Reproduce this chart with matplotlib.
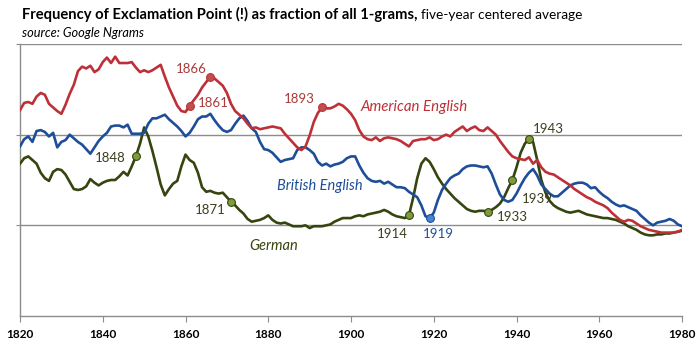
import matplotlib
matplotlib.use("Agg")
import matplotlib.pyplot as plt

plt.rcParams["font.family"] = ["Lato", "DejaVu Sans"]

YEARS = list(range(1820, 1981))

AMERICAN = [
    2.27, 2.35, 2.36, 2.34, 2.42, 2.46, 2.44, 2.34, 2.30, 2.26,
    2.23, 2.33, 2.45, 2.55, 2.70, 2.75, 2.73, 2.76, 2.69, 2.72,
    2.80, 2.85, 2.79, 2.86, 2.79, 2.79, 2.79, 2.80, 2.74, 2.69,
    2.71, 2.69, 2.71, 2.74, 2.77, 2.64, 2.52, 2.42, 2.32, 2.26,
    2.25, 2.32, 2.38, 2.44, 2.52, 2.58, 2.64, 2.62, 2.58, 2.54,
    2.46, 2.34, 2.26, 2.22, 2.18, 2.12, 2.07, 2.08, 2.06, 2.07,
    2.08, 2.09, 2.08, 2.07, 2.01, 1.96, 1.91, 1.86, 1.83, 1.87,
    1.99, 2.14, 2.24, 2.30, 2.29, 2.29, 2.31, 2.34, 2.32, 2.28,
    2.23, 2.16, 2.05, 1.98, 1.95, 1.94, 1.97, 1.93, 1.96, 1.97,
    1.96, 1.95, 1.93, 1.90, 1.87, 1.93, 1.94, 1.95, 1.95, 1.97,
    1.94, 1.95, 1.98, 2.00, 1.98, 2.03, 2.06, 2.09, 2.04, 2.07,
    2.09, 2.05, 2.04, 2.08, 2.04, 2.00, 1.93, 1.87, 1.81, 1.76,
    1.74, 1.73, 1.72, 1.75, 1.68, 1.72, 1.64, 1.59, 1.57, 1.56,
    1.53, 1.50, 1.47, 1.44, 1.40, 1.37, 1.34, 1.31, 1.29, 1.26,
    1.24, 1.22, 1.19, 1.14, 1.10, 1.06, 1.04, 1.06, 1.05, 1.02,
    0.99, 0.97, 0.95, 0.94, 0.93, 0.92, 0.92, 0.92, 0.92, 0.93,
    0.95,
]

BRITISH = [
    1.87, 1.95, 1.98, 1.92, 2.04, 2.05, 2.03, 1.98, 2.02, 1.86,
    1.92, 1.94, 2.00, 1.96, 1.92, 1.89, 1.84, 1.79, 1.86, 1.93,
    1.98, 2.02, 2.09, 2.10, 2.10, 2.08, 2.11, 2.01, 2.01, 2.01,
    2.02, 2.12, 2.18, 2.18, 2.20, 2.22, 2.17, 2.13, 2.09, 2.04,
    1.98, 2.02, 2.09, 2.17, 2.20, 2.20, 2.23, 2.16, 2.10, 2.05,
    2.03, 2.05, 2.12, 2.18, 2.21, 2.15, 2.07, 2.03, 1.92, 1.84,
    1.83, 1.80, 1.75, 1.70, 1.72, 1.73, 1.74, 1.83, 1.86, 1.86,
    1.83, 1.79, 1.70, 1.66, 1.68, 1.65, 1.67, 1.68, 1.70, 1.74,
    1.76, 1.76, 1.66, 1.58, 1.52, 1.49, 1.48, 1.49, 1.46, 1.48,
    1.45, 1.42, 1.42, 1.41, 1.37, 1.34, 1.31, 1.22, 1.10, 1.08,
    1.14, 1.28, 1.39, 1.46, 1.52, 1.55, 1.57, 1.62, 1.65, 1.66,
    1.66, 1.65, 1.64, 1.65, 1.57, 1.45, 1.34, 1.28, 1.26, 1.28,
    1.35, 1.44, 1.52, 1.58, 1.62, 1.55, 1.45, 1.40, 1.35, 1.32,
    1.32, 1.36, 1.40, 1.44, 1.46, 1.47, 1.47, 1.45, 1.41, 1.42,
    1.37, 1.33, 1.30, 1.26, 1.23, 1.21, 1.22, 1.20, 1.18, 1.16,
    1.11, 1.07, 1.03, 1.00, 1.03, 1.04, 1.05, 1.07, 1.05, 1.01,
    0.99,
]

GERMAN = [
    1.68, 1.74, 1.76, 1.72, 1.68, 1.58, 1.52, 1.49, 1.59, 1.62,
    1.61, 1.56, 1.48, 1.40, 1.39, 1.40, 1.43, 1.51, 1.47, 1.44,
    1.47, 1.49, 1.50, 1.50, 1.54, 1.59, 1.55, 1.65, 1.76, 1.90,
    2.08, 1.98, 1.82, 1.64, 1.45, 1.33, 1.40, 1.46, 1.49, 1.65,
    1.78, 1.72, 1.69, 1.58, 1.42, 1.37, 1.38, 1.36, 1.35, 1.36,
    1.31, 1.26, 1.22, 1.17, 1.13, 1.07, 1.04, 1.05, 1.06, 1.08,
    1.11, 1.06, 1.03, 1.02, 1.03, 1.01, 0.99, 0.99, 0.99, 1.00,
    0.97, 0.99, 0.99, 0.99, 1.00, 1.01, 1.04, 1.06, 1.08, 1.08,
    1.08, 1.10, 1.11, 1.10, 1.12, 1.13, 1.14, 1.15, 1.17, 1.15,
    1.12, 1.10, 1.09, 1.08, 1.11, 1.30, 1.52, 1.68, 1.74, 1.70,
    1.62, 1.53, 1.46, 1.40, 1.35, 1.30, 1.26, 1.22, 1.18, 1.16,
    1.15, 1.16, 1.16, 1.15, 1.17, 1.20, 1.24, 1.31, 1.41, 1.50,
    1.64, 1.80, 1.90, 1.95, 1.92, 1.72, 1.50, 1.36, 1.27, 1.22,
    1.19, 1.17, 1.15, 1.14, 1.15, 1.16, 1.14, 1.12, 1.11, 1.10,
    1.09, 1.08, 1.08, 1.07, 1.06, 1.04, 1.02, 0.99, 0.97, 0.95,
    0.92, 0.90, 0.89, 0.89, 0.90, 0.90, 0.91, 0.91, 0.92, 0.93,
    0.94,
]

AMERICAN_MARKS = [1861, 1866, 1893]
BRITISH_MARKS = [1919]
GERMAN_MARKS = [1848, 1871, 1914, 1933, 1939, 1943]

XTICKS = list(range(1820, 1981, 20))

RED, RED_DOT, RED_TXT = "#BE3038", "#C0504D", "#A83A3A"
BLUE, BLUE_DOT = "#1F4E99", "#4A86D0"
GREEN, GREEN_DOT, GREEN_TXT = "#36450F", "#7F9B3C", "#3B3F1E"
GRID = "#8C8C8C"


def value_at(series, year):
    return series[YEARS.index(year)]


fig = plt.figure(figsize=(7.0, 3.46), dpi=100)
ax = fig.add_axes((0.0286, 0.0867, 0.9457, 0.7862))

for series, color, dot, marks in (
    (GERMAN, GREEN, GREEN_DOT, GERMAN_MARKS),
    (BRITISH, BLUE, BLUE_DOT, BRITISH_MARKS),
    (AMERICAN, RED, RED_DOT, AMERICAN_MARKS),
):
    ax.plot(YEARS, series, color=color, lw=1.9, solid_joinstyle="round", zorder=3)
    ax.plot(
        marks,
        [value_at(series, y) for y in marks],
        ls="none",
        marker="o",
        ms=5.6,
        mfc=dot,
        mec=color,
        mew=0.8,
        zorder=4,
    )

ax.set_xlim(1820, 1980)
ax.set_ylim(0, 3)
ax.set_xticks(XTICKS)
ax.set_xticklabels([str(y) for y in XTICKS], fontweight="bold", fontsize=8.5)
ax.set_yticks([1, 2, 3])
ax.set_yticklabels([])
ax.yaxis.grid(True, color=GRID, lw=1.0)
ax.set_axisbelow(True)
ax.tick_params(axis="x", direction="out", length=4, color=GRID, pad=5)
ax.tick_params(axis="y", direction="out", length=3, color=GRID)
for side in ("top", "right"):
    ax.spines[side].set_visible(False)
for side in ("left", "bottom"):
    ax.spines[side].set_color(GRID)
    ax.spines[side].set_linewidth(1.0)

# year annotations
ann = dict(fontsize=9.5, zorder=5)
ax.text(1861.5, 2.72, "1866", color=RED_TXT, ha="center", va="center", **ann)
ax.text(1863.0, 2.35, "1861", color=RED_TXT, ha="left", va="center", **ann)
ax.text(1883.8, 2.39, "1893", color=RED_TXT, ha="left", va="center", **ann)
ax.text(1845.6, 1.74, "1848", color=GREEN_TXT, ha="right", va="center", **ann)
ax.text(1869.8, 1.17, "1871", color=GREEN_TXT, ha="right", va="center", **ann)
ax.text(1913.8, 0.90, "1914", color=GREEN_TXT, ha="right", va="center", **ann)
ax.text(1917.4, 0.90, "1919", color=BLUE, ha="left", va="center", **ann)
ax.text(1935.3, 1.09, "1933", color=GREEN_TXT, ha="left", va="center", **ann)
ax.text(1941.3, 1.29, "1939", color=GREEN_TXT, ha="left", va="center", **ann)
ax.text(1944.0, 2.06, "1943", color=GREEN_TXT, ha="left", va="center", **ann)

# series labels
lab = dict(style="italic", va="center", ha="left", zorder=5)
ax.text(1902.2, 2.30, "American English", color=RED, fontsize=10.8, **lab)
ax.text(1882.1, 1.43, "British English", color=BLUE, fontsize=10.5, **lab)
ax.text(1875.4, 0.77, "German", color=GREEN, fontsize=10.5, **lab)

fig.text(0.031, 0.957, "Frequency of Exclamation Point (!) as fraction of all 1-grams,",
         fontsize=10.6, fontweight="bold", va="center", ha="left")
fig.text(0.601, 0.957, "five-year centered average", fontsize=9.8, va="center", ha="left")
fig.text(0.032, 0.905, "source: Google Ngrams", fontsize=9.2, style="italic", va="center", ha="left")

fig.savefig("out.png", dpi=100)
